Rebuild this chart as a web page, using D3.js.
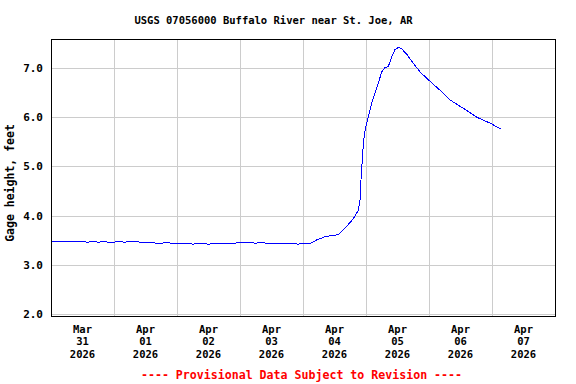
<!DOCTYPE html>
<html>
<head>
<meta charset="utf-8">
<script src="https://cdn.jsdelivr.net/npm/d3@7"></script>
<style>
  body { margin: 0; background: #fff; }
  text { font-family: "DejaVu Sans Mono", monospace; font-weight: bold; }
</style>
</head>
<body>
<div id="chart"></div>
<script>
// gage readings (local time)
var readTimes = [
  "2026-03-31 00:00","2026-03-31 02:00","2026-03-31 04:00","2026-03-31 06:00","2026-03-31 08:00","2026-03-31 10:00",
  "2026-03-31 12:00","2026-03-31 14:00","2026-03-31 16:00","2026-03-31 18:00","2026-03-31 20:00","2026-03-31 22:00",
  "2026-04-01 00:00","2026-04-01 02:00","2026-04-01 04:00","2026-04-01 06:00","2026-04-01 08:00","2026-04-01 10:00",
  "2026-04-01 12:00","2026-04-01 14:00","2026-04-01 16:00","2026-04-01 18:00","2026-04-01 20:00","2026-04-01 22:00",
  "2026-04-02 00:00","2026-04-02 02:00","2026-04-02 04:00","2026-04-02 06:00","2026-04-02 08:00","2026-04-02 10:00",
  "2026-04-02 12:00","2026-04-02 14:00","2026-04-02 16:00","2026-04-02 18:00","2026-04-02 20:00","2026-04-02 22:00",
  "2026-04-03 00:00","2026-04-03 02:00","2026-04-03 04:00","2026-04-03 06:00","2026-04-03 08:00","2026-04-03 10:00",
  "2026-04-03 12:00","2026-04-03 14:00","2026-04-03 16:00","2026-04-03 18:00","2026-04-03 20:00","2026-04-03 22:00",
  "2026-04-04 00:00","2026-04-04 02:40","2026-04-04 05:00","2026-04-04 08:20","2026-04-04 11:25","2026-04-04 13:20",
  "2026-04-04 14:30","2026-04-04 16:25","2026-04-04 18:15","2026-04-04 19:50","2026-04-04 21:05","2026-04-04 21:45",
  "2026-04-04 22:05","2026-04-04 22:20","2026-04-04 23:00","2026-04-04 23:40","2026-04-05 00:15","2026-04-05 01:15",
  "2026-04-05 02:10","2026-04-05 03:25","2026-04-05 04:40","2026-04-05 06:00","2026-04-05 07:15","2026-04-05 08:30",
  "2026-04-05 09:50","2026-04-05 11:00","2026-04-05 12:20","2026-04-05 13:35","2026-04-05 15:30","2026-04-05 18:00",
  "2026-04-05 20:35","2026-04-05 23:45","2026-04-06 04:10","2026-04-06 08:00","2026-04-06 13:05","2026-04-06 18:10",
  "2026-04-06 23:15","2026-04-07 03:20"
];
var gageFeet = [
  3.48, 3.47, 3.48, 3.47, 3.47, 3.48,
  3.47, 3.46, 3.47, 3.46, 3.47, 3.46,
  3.46, 3.47, 3.46, 3.47, 3.47, 3.46,
  3.45, 3.45, 3.44, 3.44, 3.45, 3.44,
  3.44, 3.43, 3.43, 3.42, 3.43, 3.43,
  3.42, 3.43, 3.43, 3.44, 3.44, 3.44,
  3.45, 3.45, 3.45, 3.44, 3.45, 3.44,
  3.44, 3.43, 3.44, 3.43, 3.43, 3.42,
  3.43, 3.43, 3.50, 3.57, 3.60, 3.61,
  3.67, 3.77, 3.88, 3.99, 4.11, 4.32,
  4.72, 4.93, 5.47, 5.74, 5.88, 6.08,
  6.28, 6.49, 6.69, 6.92, 7.01, 7.03,
  7.23, 7.37, 7.42, 7.39, 7.28, 7.10,
  6.92, 6.76, 6.55, 6.35, 6.18, 6.00,
  5.88, 5.76
];
var dayStarts = ["2026-03-31","2026-04-01","2026-04-02","2026-04-03","2026-04-04","2026-04-05","2026-04-06","2026-04-07","2026-04-08"];
var dayLabels = [["Mar","31","2026"],["Apr","01","2026"],["Apr","02","2026"],["Apr","03","2026"],
                 ["Apr","04","2026"],["Apr","05","2026"],["Apr","06","2026"],["Apr","07","2026"]];
var yTicks = [2, 3, 4, 5, 6, 7];

var svgWidth = 576, svgHeight = 384;
var margin = { top: 39, right: 21, bottom: 68, left: 51 };
var width = svgWidth - margin.left - margin.right;   // 504
var height = svgHeight - margin.top - margin.bottom; // 277

var parseTime = d3.timeParse("%Y-%m-%d %H:%M");
var parseDay = d3.timeParse("%Y-%m-%d");
var data = readTimes.map(function(t, i) { return { t: parseTime(t), v: gageFeet[i] }; });
var days = dayStarts.map(parseDay);

var svg = d3.select("#chart").append("svg")
  .attr("width", svgWidth)
  .attr("height", svgHeight);

var g = svg.append("g")
  .attr("transform", `translate(${margin.left}, ${margin.top})`);

var x = d3.scaleTime()
  .domain([days[0], days[days.length - 1]])
  .range([0, width]);

var y = d3.scaleLinear()
  .domain([1.959, 7.589])
  .range([height, 0]);

// horizontal grid + y tick labels
var yAxis = g.append("g")
  .call(d3.axisLeft(y).tickValues(yTicks).tickSize(-width).tickPadding(8).tickFormat(d3.format(".1f")));
yAxis.select(".domain").remove();
yAxis.selectAll("line").attr("stroke", "#cccccc").attr("shape-rendering", "crispEdges");
yAxis.selectAll("text").attr("font-size", 11).attr("fill", "#000")
  .style("font-family", "'DejaVu Sans Mono', monospace").style("font-weight", "bold");

// vertical grid at each midnight
var xGrid = g.append("g")
  .attr("transform", `translate(0, ${height})`)
  .call(d3.axisBottom(x).tickValues(days.slice(1, -1)).tickSize(-height).tickFormat(""));
xGrid.select(".domain").remove();
xGrid.selectAll("line").attr("stroke", "#cccccc").attr("shape-rendering", "crispEdges");

// day labels at noon
var labelGroup = g.append("g");
dayLabels.forEach(function(lines, i) {
  var noon = d3.timeHour.offset(days[i], 12);
  var t = labelGroup.append("text")
    .attr("x", x(noon))
    .attr("y", height + 16.5)
    .attr("text-anchor", "middle")
    .attr("font-size", 10.5);
  lines.forEach(function(s, j) {
    t.append("tspan").attr("x", x(noon)).attr("dy", j === 0 ? 0 : 12.7).text(s);
  });
});

// gage line
var line = d3.line()
  .x(d => x(d.t))
  .y(d => y(d.v));

g.append("path")
  .datum(data)
  .attr("d", line)
  .attr("fill", "none")
  .attr("stroke", "#0000ff")
  .attr("stroke-width", 1)
  .attr("shape-rendering", "crispEdges");

// frame
g.append("rect")
  .attr("x", 0.5).attr("y", 0.5)
  .attr("width", width).attr("height", height)
  .attr("fill", "none")
  .attr("stroke", "#000")
  .attr("shape-rendering", "crispEdges");

// title
svg.append("text")
  .attr("x", 273.5)
  .attr("y", 24)
  .attr("text-anchor", "middle")
  .attr("font-size", 10.5)
  .text("USGS 07056000 Buffalo River near St. Joe, AR");

// y axis label
svg.append("text")
  .attr("transform", "translate(14, 183) rotate(-90)")
  .attr("text-anchor", "middle")
  .attr("font-size", 11.5)
  .text("Gage height, feet");

// footnote
svg.append("text")
  .attr("x", 301.5)
  .attr("y", 379)
  .attr("text-anchor", "middle")
  .attr("font-size", 11.6)
  .attr("fill", "#ff0000")
  .text("---- Provisional Data Subject to Revision ----");
</script>
</body>
</html>
